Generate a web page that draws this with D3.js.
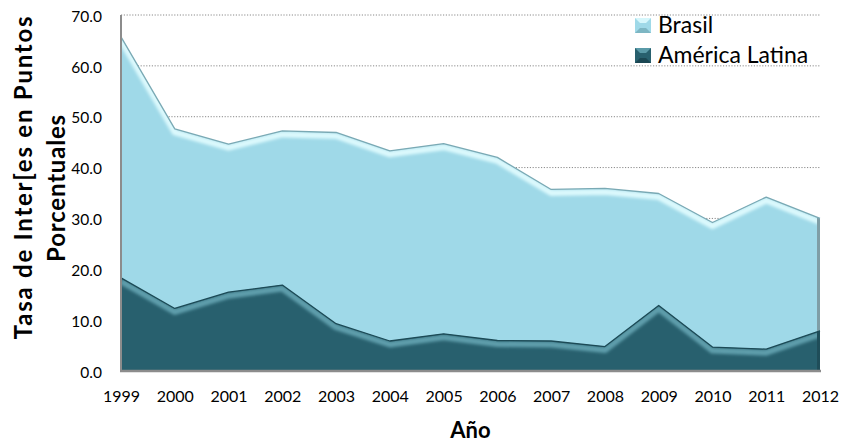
<!DOCTYPE html>
<html>
<head>
<meta charset="utf-8">
<script src="https://cdn.jsdelivr.net/npm/d3@7"></script>
<style>
  html, body { margin: 0; padding: 0; background: #ffffff; }
  svg text { font-family: Lato, "Open Sans", sans-serif; fill: #000; }
</style>
</head>
<body>
<svg id="chart" width="841" height="443"></svg>
<script>
// Lending rates, percentage points
const years = [1999, 2000, 2001, 2002, 2003, 2004, 2005, 2006, 2007, 2008, 2009, 2010, 2011, 2012];
const brasil = [65.7, 47.6, 44.6, 47.2, 46.9, 43.3, 44.7, 42.0, 35.7, 35.9, 34.9, 29.2, 34.2, 30.0];
const americaLatina = [18.3, 12.3, 15.5, 16.9, 9.3, 5.9, 7.3, 6.0, 5.9, 4.8, 12.9, 4.7, 4.3, 7.9];
const yTicks = [0, 10, 20, 30, 40, 50, 60, 70];
const seriesNames = ["Brasil", "América Latina"];

const svg = d3.select("#chart");
const plot = { left: 121, right: 820, top: 15, bottom: 371 };

const x = d3.scaleLinear().domain([years[0], years[years.length - 1]]).range([plot.left, plot.right]);
const y = d3.scaleLinear().domain([0, 70]).range([plot.bottom, plot.top]);

const defs = svg.append("defs");
const blur = defs.append("filter").attr("id", "soft")
  .attr("x", "-5%").attr("y", "-20%").attr("width", "110%").attr("height", "140%");
blur.append("feGaussianBlur").attr("stdDeviation", 1.5);

// Horizontal dotted gridlines
svg.append("g")
  .selectAll("line")
  .data(yTicks.filter(d => d > 0))
  .join("line")
  .attr("x1", plot.left).attr("x2", plot.right)
  .attr("y1", d => y(d)).attr("y2", d => y(d))
  .attr("stroke", "#8a8a8a")
  .attr("stroke-width", 1)
  .attr("stroke-dasharray", "1.2,1.6");

const series = [
  { name: seriesNames[0], values: brasil, fill: "#9fd9e8", light: "#dcf9fd", edge: "#7aa9b4", side: "#7f9ea6" },
  { name: seriesNames[1], values: americaLatina, fill: "#28606e", light: "#5e9eac", edge: "#1c4a56", side: "#1f4d59" }
];

const area = d3.area()
  .x((d, i) => x(years[i]))
  .y0(y(0))
  .y1(d => y(d));
const topLine = d3.line()
  .x((d, i) => x(years[i]))
  .y(d => y(d));

series.forEach((s, k) => {
  const clipId = "clip" + k;
  defs.append("clipPath").attr("id", clipId)
    .append("path").attr("d", area(s.values));

  const g = svg.append("g");
  // body
  g.append("path").attr("d", area(s.values)).attr("fill", s.fill);

  // bevel highlight under the upper edge
  const bevel = g.append("g").attr("clip-path", `url(#${clipId})`);
  bevel.append("path")
    .attr("d", topLine(s.values))
    .attr("transform", "translate(0,3.5)")
    .attr("fill", "none")
    .attr("stroke", s.light)
    .attr("stroke-width", 6)
    .attr("stroke-linejoin", "round")
    .attr("filter", "url(#soft)");
  // soft highlight along left side, darker along right side
  bevel.append("line")
    .attr("x1", x(years[0]) + 4).attr("x2", x(years[0]) + 4)
    .attr("y1", y(0)).attr("y2", y(d3.max(s.values)))
    .attr("stroke", s.light).attr("stroke-opacity", 0.3)
    .attr("stroke-width", 4).attr("filter", "url(#soft)");
  bevel.append("line")
    .attr("x1", x(years[years.length - 1]) - 1.5).attr("x2", x(years[years.length - 1]) - 1.5)
    .attr("y1", y(0)).attr("y2", y(0) - 200)
    .attr("stroke", s.side).attr("stroke-width", 3);

  // upper edge
  g.append("path")
    .attr("d", topLine(s.values))
    .attr("fill", "none")
    .attr("stroke", s.edge)
    .attr("stroke-width", 1.3)
    .attr("stroke-linejoin", "round");
});

// Axis lines
svg.append("line")
  .attr("x1", plot.left).attr("x2", plot.left).attr("y1", plot.top).attr("y2", plot.bottom + 1)
  .attr("stroke", "#8c8c8c").attr("stroke-width", 2);
svg.append("line")
  .attr("x1", plot.left - 1).attr("x2", plot.right + 1).attr("y1", plot.bottom).attr("y2", plot.bottom)
  .attr("stroke", "#8c8c8c").attr("stroke-width", 2.5);

// Y axis tick labels
const yAxis = d3.axisLeft(y).tickValues(yTicks).tickFormat(d3.format(".1f")).tickSize(0).tickPadding(0);
const yg = svg.append("g").attr("transform", `translate(${plot.left - 19},0)`).call(yAxis);
yg.select(".domain").remove();
yg.selectAll("text")
  .attr("font-size", 15.5)
  .attr("dy", "0.4em")
  .attr("fill", "#000")
  .style("font-family", 'Lato, sans-serif');

// X axis tick labels
const xAxis = d3.axisBottom(x).tickValues(years).tickFormat(d3.format("d")).tickSize(0).tickPadding(0);
const xg = svg.append("g").attr("transform", `translate(0,${plot.bottom + 18})`).call(xAxis);
xg.select(".domain").remove();
xg.selectAll("text")
  .attr("font-size", 16)
  .attr("dy", "0.8em")
  .attr("fill", "#000")
  .style("font-family", 'Lato, sans-serif');

// Axis titles
svg.append("text")
  .attr("x", (plot.left + plot.right) / 2).attr("y", 438)
  .attr("text-anchor", "middle")
  .attr("font-size", 22).attr("font-weight", "bold")
  .text("Año");

// Y title on two lines, letter spacing widened to the intended line lengths
const yTitleLines = [
  { text: "Tasa de Inter[es en Puntos", cx: 32, cy: 177, width: 323 },
  { text: "Porcentuales", cx: 65, cy: 188, width: 147 }
];
yTitleLines.forEach(l => {
  const t = svg.append("text")
    .attr("transform", `translate(${l.cx},${l.cy}) rotate(-90)`)
    .attr("text-anchor", "middle")
    .attr("font-size", 24).attr("font-weight", "bold")
    .text(l.text);
  const natural = t.node().getComputedTextLength();
  const extra = (l.width - natural) / (l.text.length - 1);
  if (extra > 0) t.attr("letter-spacing", extra.toFixed(2));
});

// Legend
const legendColors = [
  { base: "#9fd9e8", hi: "#d6f7fc", lo: "#6fa6b4" },
  { base: "#28606e", hi: "#5a9aa8", lo: "#153d47" }
];
const legend = svg.append("g").attr("transform", "translate(635,18)");
seriesNames.forEach((name, i) => {
  const row = legend.append("g").attr("transform", `translate(0,${i * 30})`);
  const c = legendColors[i];
  row.append("rect").attr("width", 16).attr("height", 15).attr("fill", c.base);
  // bevelled square: lighter top, darker bottom
  row.append("path").attr("d", "M0,0 L16,0 L11,5 L5,5 Z").attr("fill", c.hi);
  row.append("path").attr("d", "M0,15 L16,15 L11,10 L5,10 Z").attr("fill", c.lo).attr("opacity", 0.7);
  row.append("text")
    .attr("x", 23).attr("y", 15)
    .attr("font-size", 23)
    .text(name);
});
</script>
</body>
</html>
